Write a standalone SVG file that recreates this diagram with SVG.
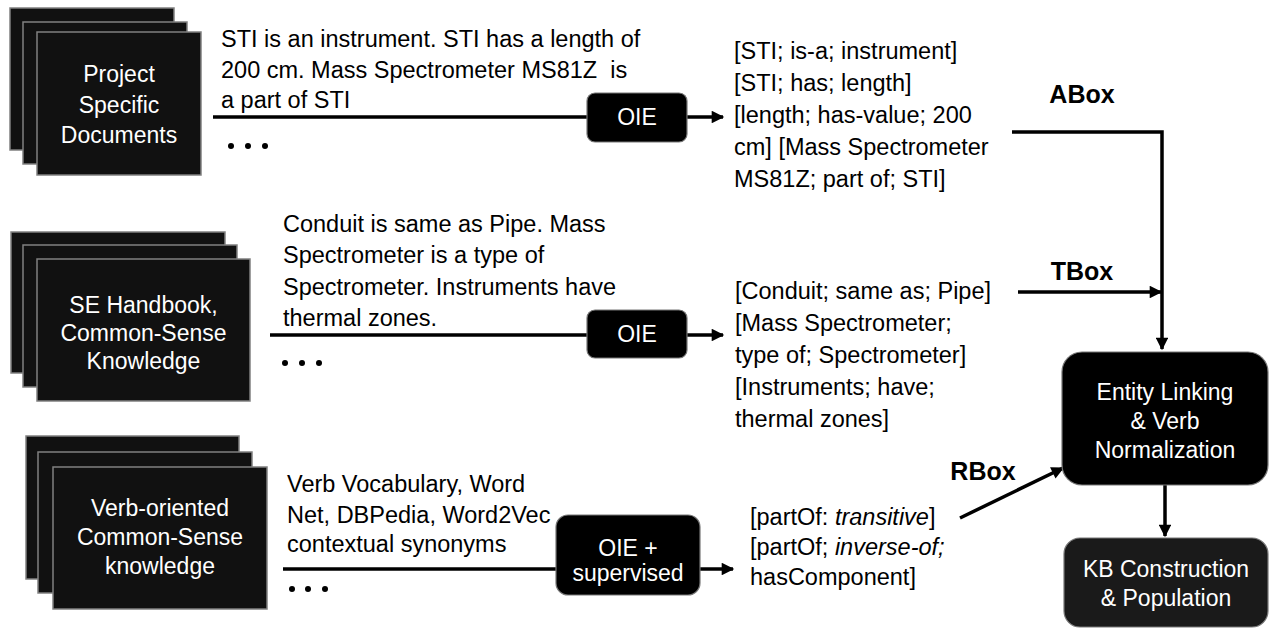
<svg xmlns="http://www.w3.org/2000/svg" width="1270" height="628" viewBox="0 0 1270 628">
<style>
  text { font-family: "Liberation Sans", Arial, sans-serif; }
  .doc { fill: #111; stroke: #808080; stroke-width: 1.5; }
  .box { fill: #000; stroke: #777; stroke-width: 1.2; }
  .kb { fill: #1a1a1a; stroke: #777; stroke-width: 1.2; }
  .wt { fill: #fff; font-size: 23px; text-anchor: middle; }
  .bt { fill: #000; font-size: 23.5px; }
  .lbl { fill: #000; font-size: 25px; font-weight: bold; text-anchor: middle; }
  .ln { stroke: #000; stroke-width: 3.5; fill: none; }
  .ar { stroke: #000; stroke-width: 3.5; fill: none; marker-end: url(#ah); }
  .dot { fill: #000; }
</style>
<defs>
  <marker id="ah" viewBox="0 0 10 10" refX="9" refY="5" markerWidth="4.2" markerHeight="3.6" orient="auto" markerUnits="strokeWidth">
    <path d="M0,0 L10,5 L0,10 z" fill="#000"/>
  </marker>
</defs>
<rect width="1270" height="628" fill="#fff"/>

<g id="doc-project">
  <rect class="doc" x="10" y="8" width="164" height="142"/>
  <rect class="doc" x="23" y="22" width="164" height="142"/>
  <rect class="doc" x="37" y="32" width="164" height="143"/>
  <text class="wt" x="119" y="82">Project</text>
  <text class="wt" x="119" y="113">Specific</text>
  <text class="wt" x="119" y="143">Documents</text>
</g>

<g id="doc-se">
  <rect class="doc" x="11" y="232" width="214" height="141"/>
  <rect class="doc" x="23" y="245" width="214" height="142"/>
  <rect class="doc" x="37" y="259" width="213" height="142"/>
  <text class="wt" x="143.5" y="313">SE Handbook,</text>
  <text class="wt" x="143.5" y="341">Common-Sense</text>
  <text class="wt" x="143.5" y="369">Knowledge</text>
</g>

<g id="doc-verb">
  <rect class="doc" x="26" y="436" width="213" height="143"/>
  <rect class="doc" x="38" y="452" width="214" height="141"/>
  <rect class="doc" x="53" y="467" width="214" height="142"/>
  <text class="wt" x="160" y="516">Verb-oriented</text>
  <text class="wt" x="160" y="545">Common-Sense</text>
  <text class="wt" x="160" y="574">knowledge</text>
</g>

<g id="text-top">
  <text class="bt" x="221" y="47">STI is an instrument. STI has a length of</text>
  <text class="bt" x="221" y="78">200 cm. Mass Spectrometer MS81Z&#160; is</text>
  <text class="bt" x="221" y="108">a part of STI</text>
  <circle class="dot" cx="231" cy="146" r="3"/>
  <circle class="dot" cx="248" cy="146" r="3"/>
  <circle class="dot" cx="265" cy="146" r="3"/>
</g>

<g id="text-mid">
  <text class="bt" x="283" y="232">Conduit is same as Pipe. Mass</text>
  <text class="bt" x="283" y="263">Spectrometer is a type of</text>
  <text class="bt" x="283" y="295">Spectrometer. Instruments have</text>
  <text class="bt" x="283" y="326">thermal zones.</text>
  <circle class="dot" cx="285" cy="363" r="3"/>
  <circle class="dot" cx="302" cy="363" r="3"/>
  <circle class="dot" cx="319" cy="363" r="3"/>
</g>

<g id="text-bot">
  <text class="bt" x="287" y="492">Verb Vocabulary, Word</text>
  <text class="bt" x="287" y="523">Net, DBPedia, Word2Vec</text>
  <text class="bt" x="287" y="552">contextual synonyms</text>
  <circle class="dot" cx="292" cy="589" r="3"/>
  <circle class="dot" cx="308" cy="589" r="3"/>
  <circle class="dot" cx="325" cy="589" r="3"/>
</g>

<g id="connectors">
  <line class="ln" x1="213" y1="117" x2="587" y2="117"/>
  <line class="ar" x1="687" y1="117" x2="723" y2="117"/>
  <line class="ln" x1="270" y1="335" x2="587" y2="335"/>
  <line class="ar" x1="687" y1="335" x2="723" y2="335"/>
  <line class="ln" x1="283" y1="569" x2="556" y2="569"/>
  <line class="ar" x1="700" y1="569" x2="733" y2="569"/>
  <path class="ar" d="M1012,132 H1162 V349"/>
  <line class="ar" x1="1018" y1="292" x2="1161" y2="292"/>
  <line class="ar" x1="960" y1="518" x2="1063" y2="468"/>
  <line class="ar" x1="1165" y1="485" x2="1165" y2="536"/>
</g>

<g id="oie-top">
  <rect class="box" x="587" y="93" width="100" height="49" rx="8"/>
  <text class="wt" x="637" y="125" font-size="21">OIE</text>
</g>
<g id="oie-mid">
  <rect class="box" x="587" y="310" width="100" height="48" rx="8"/>
  <text class="wt" x="637" y="342" font-size="21">OIE</text>
</g>
<g id="oie-sup">
  <rect class="box" x="556" y="515" width="144" height="80" rx="12"/>
  <text class="wt" x="628" y="556">OIE +</text>
  <text class="wt" x="628" y="581">supervised</text>
</g>

<g id="triples-a">
  <text class="bt" x="734" y="59">[STI; is-a; instrument]</text>
  <text class="bt" x="734" y="91">[STI; has; length]</text>
  <text class="bt" x="734" y="123">[length; has-value; 200</text>
  <text class="bt" x="734" y="155">cm] [Mass Spectrometer</text>
  <text class="bt" x="734" y="187">MS81Z; part of; STI]</text>
</g>
<g id="triples-t">
  <text class="bt" x="735" y="299">[Conduit; same as; Pipe]</text>
  <text class="bt" x="735" y="331">[Mass Spectrometer;</text>
  <text class="bt" x="735" y="363">type of; Spectrometer]</text>
  <text class="bt" x="735" y="395">[Instruments; have;</text>
  <text class="bt" x="735" y="427">thermal zones]</text>
</g>
<g id="triples-r">
  <text class="bt" x="750" y="525">[partOf: <tspan font-style="italic">transitive</tspan>]</text>
  <text class="bt" x="750" y="555">[partOf; <tspan font-style="italic">inverse-of;</tspan></text>
  <text class="bt" x="750" y="585">hasComponent]</text>
</g>

<g id="labels">
  <text class="lbl" x="1082" y="103">ABox</text>
  <text class="lbl" x="1082" y="280">TBox</text>
  <text class="lbl" x="983" y="480">RBox</text>
</g>

<g id="entity-linking">
  <rect class="box" x="1062" y="352" width="206" height="133" rx="20"/>
  <text class="wt" x="1165" y="400">Entity Linking</text>
  <text class="wt" x="1165" y="429">&amp; Verb</text>
  <text class="wt" x="1165" y="458">Normalization</text>
</g>
<g id="kb-construction">
  <rect class="kb" x="1064" y="538" width="204" height="89" rx="16"/>
  <text class="wt" x="1166" y="577">KB Construction</text>
  <text class="wt" x="1166" y="606">&amp; Population</text>
</g>
</svg>
